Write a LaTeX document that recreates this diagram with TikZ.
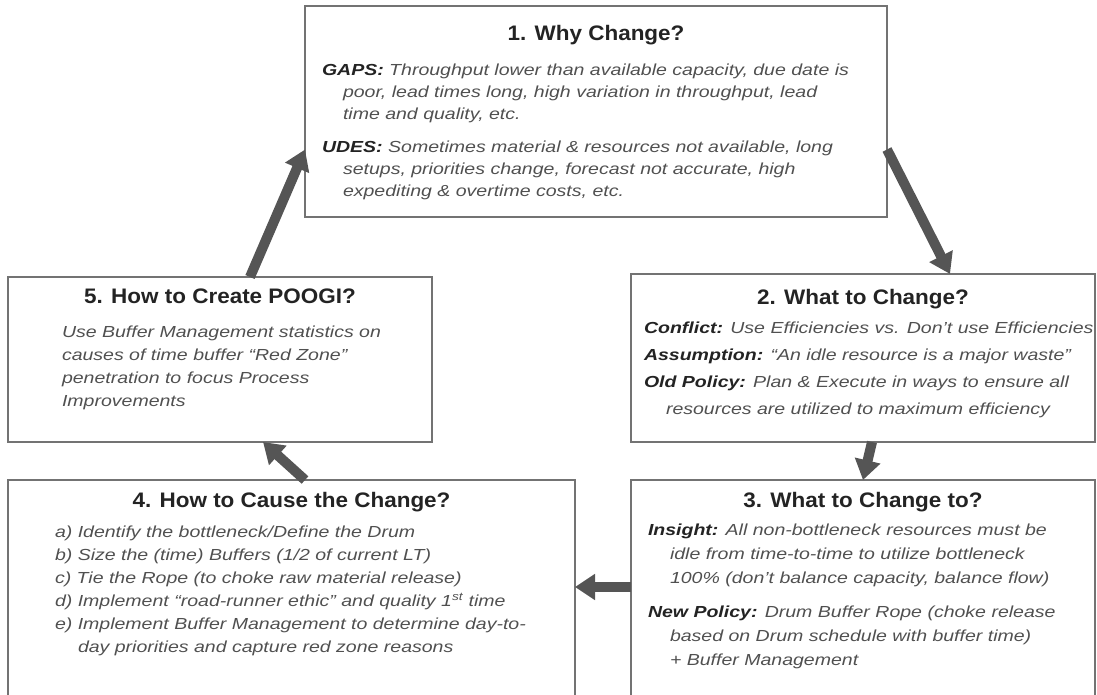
\documentclass[tikz,border=0pt]{standalone}
\usepackage{fontspec}
\setmainfont{Liberation Sans}[FakeStretch=1.22]
\newfontfamily\titlefont{Liberation Sans}[FakeStretch=1.07]
\usetikzlibrary{arrows.meta,positioning,calc}
\definecolor{boxgray}{RGB}{115,115,115}
\definecolor{flowgray}{RGB}{85,85,85}
\definecolor{ink}{RGB}{35,35,35}
\definecolor{softink}{RGB}{80,80,80}
\newcommand{\lbl}[1]{\textcolor{ink}{\textbf{#1}}}

\begin{document}
\begin{tikzpicture}[x=1pt,y=-1pt,
  box/.style={draw=boxgray,line width=1.6pt,anchor=north west,
              inner sep=0pt,outer sep=0pt},
  ttl/.style={font=\titlefont\fontsize{21}{25}\selectfont\bfseries,text=ink,
              inner sep=0pt,outer sep=0pt},
  body/.style={font=\fontsize{16}{#1}\selectfont\itshape,text=softink,
               align=left,inner sep=0pt,outer sep=0pt},
  body/.default=23,
  flow/.style={draw=flowgray,line width=10pt,
               -{Triangle[length=20pt,width=25pt]}}
]
\useasboundingbox (0,0) rectangle (1097,694);
\clip (0,0) rectangle (1097,694);

% the five steps
\node[box,minimum width=582pt,minimum height=211pt] (why)    at (305,6)   {};
\node[box,minimum width=464pt,minimum height=168pt] (what)   at (631,274) {};
\node[box,minimum width=424pt,minimum height=165pt] (poogi)  at (8,277)   {};
\node[box,minimum width=567pt,minimum height=300pt] (how)    at (8,480)   {};
\node[box,minimum width=464pt,minimum height=300pt] (whatto) at (631,480) {};

\node[ttl,below=19pt of why.north]    (whyT)    {1. Why Change?};
\node[ttl,below=15pt of what.north]   (whatT)   {2. What to Change?};
\node[ttl,below=12pt of whatto.north] (whattoT) {3. What to Change to?};
\node[ttl,below=12pt of how.north]    (howT)    {4. How to Cause the Change?};
\node[ttl,below=12pt of poogi.north]  (poogiT)  {5. How to Create POOGI?};

\node[body=22,below right=58pt and 17pt of why.north west] (whyB) {%
  \lbl{GAPS:} Throughput lower than available capacity, due date is\\
  \hspace*{21pt}poor, lead times long, high variation in throughput, lead\\
  \hspace*{21pt}time and quality, etc.\\[11pt]
  \lbl{UDES:} Sometimes material \& resources not available, long\\
  \hspace*{21pt}setups, priorities change, forecast not accurate, high\\
  \hspace*{21pt}expediting \& overtime costs, etc.};

\node[body=27,below right=48pt and 13pt of what.north west] (whatB) {%
  \lbl{Conflict:} Use Efficiencies vs. Don’t use Efficiencies\\
  \lbl{Assumption:} “An idle resource is a major waste”\\
  \lbl{Old Policy:} Plan \& Execute in ways to ensure all\\
  \hspace*{22pt}resources are utilized to maximum efficiency};

\node[body=24,below right=44pt and 17pt of whatto.north west] (whattoB) {%
  \lbl{Insight:} All non-bottleneck resources must be\\
  \hspace*{22pt}idle from time-to-time to utilize bottleneck\\
  \hspace*{22pt}100\% (don’t balance capacity, balance flow)\\[10pt]
  \lbl{New Policy:} Drum Buffer Rope (choke release\\
  \hspace*{22pt}based on Drum schedule with buffer time)\\
  \hspace*{22pt}+ Buffer Management};

\node[body,below right=46pt and 47pt of how.north west] (howB) {%
  a) Identify the bottleneck/Define the Drum\\
  b) Size the (time) Buffers (1/2 of current LT)\\
  c) Tie the Rope (to choke raw material release)\\
  d) Implement “road-runner ethic” and quality 1\textsuperscript{st} time\\
  e) Implement Buffer Management to determine day-to-\\
  \hspace*{23pt}day priorities and capture red zone reasons};

\node[body,below right=49pt and 54pt of poogi.north west] (poogiB) {%
  Use Buffer Management statistics on\\
  causes of time buffer “Red Zone”\\
  penetration to focus Process\\
  Improvements};

% cycle arrows
\draw[flow] ($(poogi.north)+(30,0)$)     -- ($(why.west)+(0,38)$);
\draw[flow] ($(why.east)+(0,38)$)        -- ($(what.north)+(87,0)$);
\draw[flow] ($(what.south)+(9,0)$)       -- (whatto.north);
\draw[flow] ($(whatto.north west)+(0,107)$) -- ($(how.north east)+(0,107)$);
\draw[flow] ($(how.north)+(13.5,0)$)     -- ($(poogi.south)+(43,0)$);
\end{tikzpicture}
\end{document}
